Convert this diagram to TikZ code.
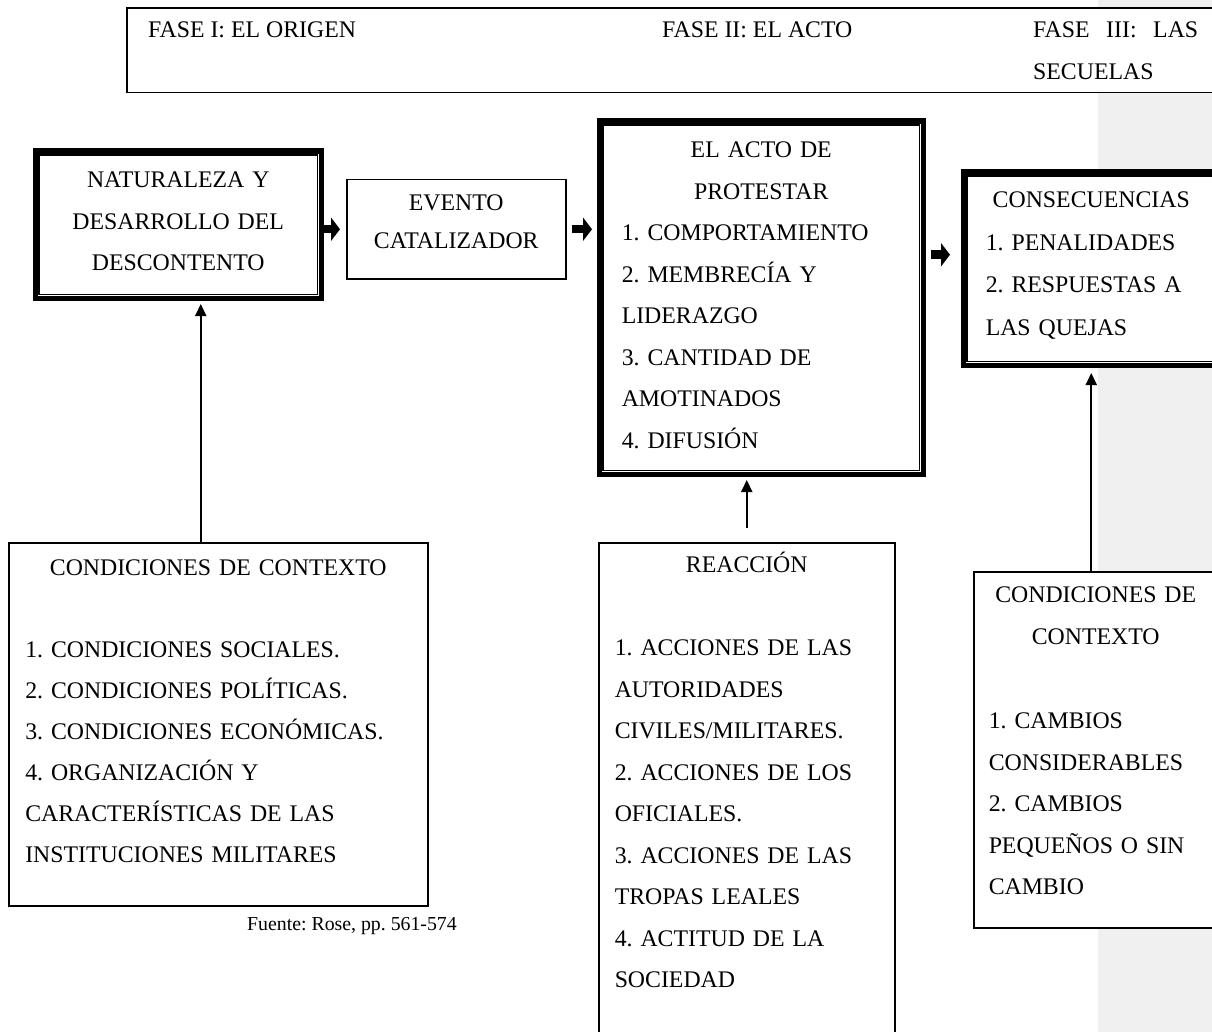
\documentclass[tikz,border=0pt]{standalone}
\usepackage{fontspec}
\setmainfont{Liberation Serif}
\usetikzlibrary{arrows.meta,positioning}
\definecolor{band}{gray}{0.94}
\frenchspacing

\begin{document}
\begin{tikzpicture}[x=1pt, y=-1pt,
  txt/.style={font=\fontsize{23.8}{41.5}\selectfont, inner sep=0pt},
  box/.style={txt, draw, line width=1.5pt, fill=white, anchor=north west, inner ysep=0pt},
  dblbox/.style={box, line width=5.5pt},
  blockarrow/.style={line width=8.5pt, -{Triangle[width=23pt,length=9pt]}},
  thinarrow/.style={line width=2pt, -{Triangle[width=11pt,length=12pt]}}]
  \useasboundingbox (0,0) rectangle (1212,1032);
  \clip (0,0) rectangle (1212,1032);
  \fill[band] (1098,0) rectangle (1212,1032);

  \node[box, minimum width=1104pt, minimum height=84.5pt] (fases) at (126,7.5) {};
  \node[txt, anchor=base west] (ph1) at (148,38) {FASE I: EL ORIGEN};
  \node[txt, anchor=base west] (ph2) at (662,38) {FASE II: EL ACTO};
  \node[txt, anchor=base west, text width=165pt, align=left] (ph3) at (1033,38)
    {\makebox[165pt][l]{FASE\hfill III:\hfill LAS}\\SECUELAS};

  \node[dblbox, inner xsep=10pt, text width=266pt, text height=36.5pt, text depth=110.5pt,
    align=center] (origen) at (32.5,148.5) {NATURALEZA Y\\DESARROLLO DEL\\DESCONTENTO};
  \node[box, inner xsep=10pt, text width=199pt, text height=31pt, text depth=68pt,
    align=center, font=\fontsize{23.8}{38}\selectfont] (evento) at (346,179) {EVENTO\\CATALIZADOR};
  \node[dblbox, inner xsep=22.5pt, text width=279pt, text height=36.5pt, text depth=316.5pt,
    align=left] (acto) at (596.5,118.5)
    {\makebox[\linewidth]{EL ACTO DE}\\\makebox[\linewidth]{PROTESTAR}\\1. COMPORTAMIENTO\\2. MEMBRECÍA Y\\LIDERAZGO\\3. CANTIDAD DE\\AMOTINADOS\\4. DIFUSIÓN};
  \node[dblbox, inner xsep=22.5pt, text width=211pt, text height=35.5pt, text depth=157.5pt,
    align=left, font=\fontsize{23.8}{42.5}\selectfont] (cons) at (960.5,169.5)
    {\makebox[\linewidth]{CONSECUENCIAS}\\1. PENALIDADES\\2. RESPUESTAS A\\LAS QUEJAS};

  \node[box, inner xsep=16.5pt, text width=386pt, text height=33pt, text depth=330pt,
    align=left, font=\fontsize{23.8}{41}\selectfont] (ctx1) at (8,542)
    {\makebox[\linewidth]{CONDICIONES DE CONTEXTO}\\[41pt]1. CONDICIONES SOCIALES.\\2. CONDICIONES POLÍTICAS.\\3. CONDICIONES ECONÓMICAS.\\4. ORGANIZACIÓN Y\\CARACTERÍSTICAS DE LAS\\INSTITUCIONES MILITARES};
  \node[box, inner xsep=16pt, text width=264pt, text height=30pt, text depth=470pt,
    align=left] (reac) at (598,542)
    {\makebox[\linewidth]{REACCIÓN}\\[41.5pt]1. ACCIONES DE LAS\\AUTORIDADES\\CIVILES/MILITARES.\\2. ACCIONES DE LOS\\OFICIALES.\\3. ACCIONES DE LAS\\TROPAS LEALES\\4. ACTITUD DE LA\\SOCIEDAD};
  \node[box, inner xsep=15pt, text width=214pt, text height=31pt, text depth=325pt,
    align=left] (ctx3) at (973,571)
    {\makebox[\linewidth]{CONDICIONES DE}\\\makebox[\linewidth]{CONTEXTO}\\[43pt]1. CAMBIOS\\CONSIDERABLES\\2. CAMBIOS\\PEQUEÑOS O SIN\\CAMBIO};

  \node[inner sep=0pt, anchor=base west, font=\fontsize{19.8}{24}\selectfont] (fuente) at (247,930)
    {Fuente: Rose, pp. 561-574};

  \draw[blockarrow, shorten >=6pt] (origen.east |- evento.west) -- (evento.west);
  \draw[blockarrow, shorten <=5pt, shorten >=4.5pt] (evento.east) -- (acto.west |- evento.east);
  \coordinate (c1) at ([yshift=14pt]cons.west);
  \draw[blockarrow, shorten <=4.5pt, shorten >=10.5pt] (acto.east |- c1) -- (c1);

  \coordinate (a1) at ([xshift=-17.5pt]ctx1.north);
  \draw[thinarrow, shorten >=3pt] (a1) -- (a1 |- origen.south);
  \draw[thinarrow, shorten <=14pt, shorten >=3pt] (reac.north) -- (reac.north |- acto.south);
  \draw[thinarrow, shorten >=5pt] (ctx3.north -| cons.south) -- (cons.south);

  \foreach \n in {origen,acto,cons}
    \draw[line width=1.5pt] ([shift={(6.5,6.5)}]\n.north west) rectangle ([shift={(-6.5,-6.5)}]\n.south east);
\end{tikzpicture}
\end{document}
